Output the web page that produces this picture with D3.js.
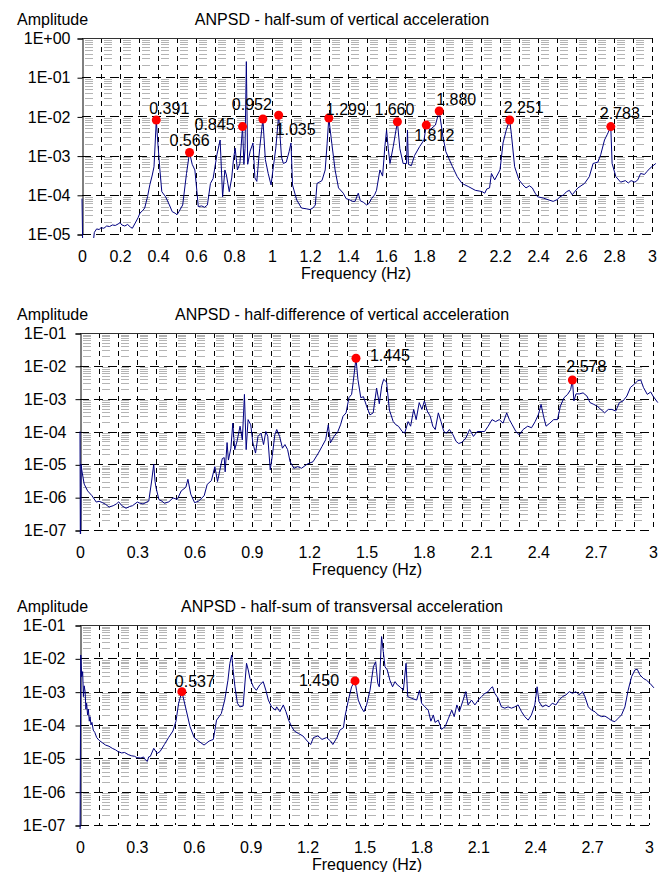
<!DOCTYPE html>
<html>
<head>
<meta charset="utf-8">
<script src="https://cdn.jsdelivr.net/npm/d3@7"></script>
<style>
  body { margin: 0; background: #fff; }
  text { font-family: "Liberation Sans", Arial, sans-serif; fill: #000; }
</style>
</head>
<body>
<svg id="chart" width="669" height="872"></svg>
<script>
// ---- data: [frequency (Hz), amplitude] ----
var halfSumVert = [
  [0, 8e-5], [0.004, 4e-6], [0.057, 5e-6], [0.065, 1.1e-5], [0.077, 1.35e-5], [0.09, 1.3e-5],
  [0.1, 1.45e-5], [0.115, 1.4e-5], [0.13, 1.6e-5], [0.145, 1.55e-5], [0.16, 1.7e-5], [0.175, 1.65e-5],
  [0.19, 1.8e-5], [0.2, 1.95e-5], [0.21, 1.7e-5], [0.225, 1.6e-5], [0.24, 1.75e-5], [0.255, 1.5e-5],
  [0.265, 1.4e-5], [0.28, 1.9e-5], [0.295, 2.6e-5], [0.305, 3.4e-5], [0.32, 4e-5], [0.33, 4.6e-5],
  [0.345, 9e-5], [0.357, 1.8e-4], [0.37, 3.2e-4], [0.379, 5.2e-4], [0.386, 2.5e-3], [0.391, 8.1e-3],
  [0.398, 2.5e-3], [0.41, 4.3e-4], [0.42, 1.2e-4], [0.44, 8.9e-5], [0.46, 5.5e-5], [0.475, 3.7e-5],
  [0.49, 3.4e-5], [0.5, 3.1e-5], [0.51, 3.7e-5], [0.53, 5.5e-5], [0.55, 3.5e-4], [0.566, 1.2e-3],
  [0.58, 6e-4], [0.594, 4.3e-4], [0.605, 1.2e-4], [0.612, 5e-5], [0.63, 5.2e-5], [0.645, 4.8e-5],
  [0.66, 5.5e-5], [0.676, 1.95e-4], [0.69, 2.6e-4], [0.71, 1.05e-3], [0.727, 2.5e-3], [0.74, 8.9e-5],
  [0.752, 4.3e-4], [0.76, 3.2e-4], [0.775, 1.2e-4], [0.788, 2.7e-4], [0.797, 7.8e-4], [0.806, 1.55e-3],
  [0.818, 4.3e-4], [0.831, 6.3e-4], [0.845, 5.5e-3], [0.852, 6e-4], [0.858, 1.5e-3], [0.865, 0.25],
  [0.872, 6e-4], [0.885, 1.3e-3], [0.9, 2.1e-3], [0.91, 2.7e-4], [0.92, 2.2e-4], [0.935, 1.5e-3],
  [0.952, 8.6e-3], [0.965, 7.9e-4], [0.98, 3.5e-4], [0.995, 1.78e-4], [1.005, 4.3e-4], [1.02, 1.55e-3],
  [1.035, 1.07e-2], [1.05, 9.1e-4], [1.06, 6.3e-4], [1.075, 6.8e-4], [1.09, 1.26e-3], [1.1, 2.1e-3],
  [1.108, 1.78e-4], [1.13, 7.4e-5], [1.155, 4.6e-5], [1.18, 4.4e-5], [1.2, 4.2e-5], [1.215, 4.6e-5],
  [1.228, 5.5e-5], [1.237, 1.95e-4], [1.263, 2.3e-4], [1.28, 4.3e-4], [1.29, 2e-3], [1.299, 9.1e-3],
  [1.315, 2e-3], [1.332, 4.3e-4], [1.35, 1.5e-4], [1.375, 1.1e-4], [1.39, 8e-5], [1.41, 7.4e-5],
  [1.425, 6.8e-5], [1.437, 6.8e-5], [1.454, 1.1e-4], [1.465, 7e-5], [1.48, 6.5e-5], [1.498, 5.5e-5],
  [1.51, 6e-5], [1.524, 8e-5], [1.54, 1e-4], [1.55, 1.3e-4], [1.568, 4.3e-4], [1.582, 3e-4],
  [1.594, 1.7e-3], [1.603, 4.5e-3], [1.612, 1.5e-3], [1.621, 6.3e-4], [1.638, 1.7e-3], [1.66, 7.3e-3],
  [1.673, 1.5e-3], [1.69, 6.3e-4], [1.708, 6.3e-4], [1.713, 4.5e-3], [1.718, 6e-4], [1.733, 5.5e-4],
  [1.75, 1e-3], [1.777, 1.7e-3], [1.8, 2.5e-3], [1.812, 6e-3], [1.83, 4.5e-3], [1.86, 6e-3],
  [1.88, 1.37e-2], [1.9, 3e-3], [1.915, 1.26e-3], [1.95, 5.2e-4], [1.975, 2.9e-4], [2.0, 1.95e-4],
  [2.036, 1.6e-4], [2.07, 1.3e-4], [2.09, 1.25e-4], [2.106, 1.2e-4], [2.12, 1.1e-4], [2.13, 1.4e-4],
  [2.145, 1.5e-4], [2.155, 3.5e-4], [2.172, 2.4e-4], [2.2, 4.3e-4], [2.216, 2.1e-3], [2.233, 4.5e-3],
  [2.251, 8.1e-3], [2.26, 3.5e-3], [2.277, 5.2e-4], [2.3, 2.4e-4], [2.32, 1.8e-4], [2.337, 1.5e-4],
  [2.355, 1.7e-4], [2.37, 1.5e-4], [2.385, 1.1e-4], [2.398, 8.9e-5], [2.43, 8.2e-5], [2.456, 7.4e-5],
  [2.48, 6.8e-5], [2.5, 7.5e-5], [2.516, 8.9e-5], [2.535, 1e-4], [2.55, 1.2e-4], [2.565, 1.3e-4],
  [2.58, 1e-4], [2.61, 1.5e-4], [2.645, 1.95e-4], [2.67, 2.9e-4], [2.69, 6.3e-4], [2.715, 6.8e-4],
  [2.73, 1.05e-3], [2.75, 2.5e-3], [2.765, 3.5e-3], [2.783, 5.5e-3], [2.79, 6.3e-4], [2.81, 2.9e-4],
  [2.835, 2.1e-4], [2.86, 2.3e-4], [2.875, 2e-4], [2.89, 2.3e-4], [2.91, 2.1e-4], [2.925, 2.4e-4],
  [2.94, 3.5e-4], [2.96, 3.3e-4], [2.975, 4e-4], [2.99, 4.8e-4], [3.02, 6.3e-4]
];
var halfSumVertPeaks = [
  [0.391, 8.1e-3], [0.566, 1.2e-3], [0.845, 5.5e-3], [0.952, 8.6e-3], [1.035, 1.07e-2], [1.299, 9.1e-3],
  [1.660, 7.3e-3], [1.812, 6e-3], [1.880, 1.37e-2], [2.251, 8.1e-3], [2.783, 5.5e-3]
];

var halfDiffVert = [
  [0, 1e-4], [0.002, 1e-8], [0.006, 1e-5], [0.01, 6.3e-6], [0.022, 2.5e-6], [0.04, 1.55e-6],
  [0.063, 1.1e-6], [0.085, 7.1e-7], [0.1, 7.5e-7], [0.118, 6.8e-7], [0.135, 6e-7], [0.152, 5e-7],
  [0.174, 5.5e-7], [0.19, 6.2e-7], [0.203, 7.2e-7], [0.219, 5.5e-7], [0.241, 4.6e-7], [0.26, 5.2e-7],
  [0.275, 5.5e-7], [0.3, 7.1e-7], [0.315, 6.5e-7], [0.33, 6.2e-7], [0.36, 7.6e-7], [0.375, 3.1e-6],
  [0.386, 1e-5], [0.393, 3e-6], [0.398, 1.95e-6], [0.413, 8.5e-7], [0.43, 7.5e-7], [0.442, 6.5e-7],
  [0.465, 7.2e-7], [0.487, 9.5e-7], [0.509, 8.5e-7], [0.53, 1.55e-6], [0.554, 2e-6], [0.565, 3.5e-6],
  [0.58, 1.23e-6], [0.6, 6.8e-7], [0.62, 7.5e-7], [0.65, 1.1e-6], [0.666, 2.45e-6], [0.688, 3.2e-6],
  [0.706, 8.5e-6], [0.72, 3e-6], [0.74, 1.1e-5], [0.745, 1.5e-5], [0.755, 1.6e-5], [0.76, 5.9e-6],
  [0.77, 4.6e-5], [0.777, 1.35e-5], [0.79, 3.1e-5], [0.8, 1.8e-4], [0.81, 2.8e-5], [0.822, 5e-5],
  [0.838, 1.45e-4], [0.85, 5.6e-5], [0.861, 1.35e-3], [0.87, 2.8e-5], [0.88, 2.3e-4], [0.894, 1.6e-4],
  [0.905, 4.5e-5], [0.919, 2.2e-5], [0.932, 7.1e-5], [0.948, 8.9e-5], [0.961, 4e-5], [0.973, 1e-4],
  [0.983, 7.1e-5], [0.996, 6.8e-6], [1.006, 1.7e-5], [1.02, 7.9e-5], [1.03, 1.15e-4], [1.045, 7.1e-5],
  [1.06, 3.1e-5], [1.073, 4e-5], [1.087, 2.8e-5], [1.1, 1.2e-5], [1.12, 7.6e-6], [1.14, 8.5e-6],
  [1.16, 7.6e-6], [1.19, 1.02e-5], [1.22, 1.2e-5], [1.248, 2.2e-5], [1.267, 3.5e-5], [1.286, 5.6e-5],
  [1.3, 1.6e-4], [1.311, 4.5e-5], [1.33, 7.1e-5], [1.35, 1e-4], [1.364, 1.6e-4], [1.377, 2.9e-4],
  [1.393, 3.7e-4], [1.408, 1.07e-3], [1.422, 1.35e-3], [1.43, 3.1e-3], [1.445, 1.7e-2], [1.455, 3.9e-3],
  [1.47, 1.07e-3], [1.484, 1.15e-3], [1.5, 6e-4], [1.518, 3.2e-4], [1.535, 3.7e-4], [1.553, 2.1e-3],
  [1.567, 7e-4], [1.58, 2.5e-3], [1.59, 3.9e-3], [1.605, 3.2e-3], [1.62, 4.5e-4], [1.64, 2e-4],
  [1.654, 1.6e-4], [1.667, 1.45e-4], [1.687, 1e-4], [1.7, 8.9e-5], [1.718, 2e-4], [1.731, 1.45e-4],
  [1.747, 4.7e-4], [1.76, 2.3e-4], [1.776, 7.6e-4], [1.79, 4.7e-4], [1.803, 8.5e-4], [1.818, 4.2e-4],
  [1.834, 2.9e-4], [1.847, 1.45e-4], [1.86, 1.15e-4], [1.876, 3.7e-4], [1.89, 2e-4], [1.905, 1e-4],
  [1.919, 8.9e-5], [1.934, 1.15e-4], [1.953, 7.9e-5], [1.969, 5e-5], [1.983, 4.3e-5], [2.0, 4.7e-5],
  [2.02, 6.3e-5], [2.04, 1.15e-4], [2.06, 7.1e-5], [2.08, 1e-4], [2.1, 1e-4], [2.118, 1e-4],
  [2.137, 1.45e-4], [2.157, 2.3e-4], [2.176, 2e-4], [2.195, 2.3e-4], [2.215, 1.8e-4], [2.234, 3.7e-4],
  [2.248, 2.3e-4], [2.263, 1.6e-4], [2.282, 1e-4], [2.3, 7.9e-5], [2.32, 1.15e-4], [2.344, 1.45e-4],
  [2.364, 1.3e-4], [2.383, 2e-4], [2.4, 3.3e-4], [2.414, 6.7e-4], [2.427, 2.9e-4], [2.44, 1.45e-4],
  [2.46, 1.8e-4], [2.48, 2.3e-4], [2.5, 2.3e-4], [2.515, 5.9e-4], [2.534, 1.07e-3], [2.553, 1.35e-3],
  [2.569, 1.9e-3], [2.578, 3.7e-3], [2.586, 8.5e-4], [2.597, 1.4e-3], [2.615, 1.4e-3], [2.634, 1.5e-3],
  [2.654, 1.2e-3], [2.67, 7.6e-4], [2.69, 6.7e-4], [2.708, 5.9e-4], [2.727, 4.7e-4], [2.747, 3.7e-4],
  [2.766, 4.7e-4], [2.785, 4.7e-4], [2.805, 4.2e-4], [2.824, 7.6e-4], [2.843, 8.5e-4], [2.863, 1.2e-3],
  [2.882, 2.2e-3], [2.9, 2.7e-3], [2.92, 3.5e-3], [2.936, 3.7e-3], [2.95, 2.2e-3], [2.97, 1.35e-3],
  [2.988, 1.6e-3], [3.0, 1.2e-3], [3.025, 7.6e-4]
];
var halfDiffVertPeaks = [[1.445, 1.7e-2], [2.578, 3.7e-3]];

var halfSumTrans = [
  [0, 1e-8], [0.004, 1.26e-2], [0.009, 2.8e-3], [0.014, 4e-3], [0.018, 7.1e-4], [0.022, 1.5e-3],
  [0.027, 1e-3], [0.031, 3e-4], [0.035, 4.5e-4], [0.04, 2e-4], [0.044, 3e-4], [0.049, 1.3e-4],
  [0.053, 1.78e-4], [0.058, 1e-4], [0.063, 1.2e-4], [0.07, 7e-5], [0.078, 6e-5], [0.088, 4.2e-5],
  [0.1, 3.5e-5], [0.119, 2.9e-5], [0.135, 2.5e-5], [0.153, 2.3e-5], [0.17, 2e-5], [0.187, 1.8e-5],
  [0.2, 1.6e-5], [0.22, 1.45e-5], [0.235, 1.5e-5], [0.254, 1.3e-5], [0.27, 1.2e-5], [0.288, 1.15e-5],
  [0.3, 1.05e-5], [0.321, 1.02e-5], [0.335, 1.1e-5], [0.345, 9e-6], [0.355, 8.1e-6], [0.362, 1.1e-5],
  [0.371, 1.15e-5], [0.389, 2e-5], [0.407, 1.4e-5], [0.422, 1.6e-5], [0.445, 2.6e-5], [0.467, 4.2e-5],
  [0.49, 6.6e-5], [0.506, 1.3e-4], [0.52, 4.5e-4], [0.537, 1e-3], [0.56, 2.8e-4], [0.58, 8.9e-5],
  [0.602, 4.2e-5], [0.625, 3.3e-5], [0.654, 2.5e-5], [0.681, 3.3e-5], [0.703, 3.7e-5], [0.72, 1.4e-4],
  [0.745, 2.2e-4], [0.763, 5.6e-4], [0.78, 2.2e-3], [0.79, 7e-3], [0.8, 1.26e-2], [0.808, 4e-3],
  [0.817, 1.4e-3], [0.83, 4.5e-4], [0.843, 3.5e-4], [0.86, 3.7e-4], [0.878, 7.1e-3], [0.887, 4.5e-3],
  [0.896, 2.5e-3], [0.914, 1.4e-3], [0.93, 1.1e-3], [0.948, 1.6e-3], [0.966, 2e-3], [0.98, 1.1e-3],
  [0.993, 5.6e-4], [1.01, 3.5e-4], [1.03, 2.8e-4], [1.037, 3.5e-4], [1.054, 2.5e-4], [1.072, 4e-4],
  [1.086, 2.5e-4], [1.1, 1.4e-4], [1.116, 8.9e-5], [1.13, 6.6e-5], [1.153, 5.5e-5], [1.175, 4.7e-5],
  [1.198, 3.3e-5], [1.216, 2.6e-5], [1.231, 4.2e-5], [1.254, 4.7e-5], [1.276, 3.7e-5], [1.3, 4.2e-5],
  [1.321, 3.3e-5], [1.333, 2.6e-5], [1.355, 4.2e-5], [1.37, 7e-5], [1.389, 8.3e-5], [1.397, 1.78e-4],
  [1.415, 5.6e-4], [1.432, 1.4e-3], [1.45, 2.1e-3], [1.458, 1.1e-3], [1.467, 5.6e-4], [1.485, 3.2e-4],
  [1.497, 2.5e-4], [1.511, 4e-4], [1.529, 1.1e-3], [1.547, 5.6e-3], [1.559, 7.9e-3], [1.57, 1.78e-3],
  [1.578, 1.4e-3], [1.59, 4.5e-2], [1.599, 1.6e-2], [1.608, 5.6e-3], [1.62, 4.5e-3], [1.634, 2.2e-3],
  [1.648, 1.4e-3], [1.661, 2e-3], [1.673, 1.6e-3], [1.687, 1.4e-3], [1.705, 1.1e-3], [1.719, 7.1e-3],
  [1.728, 7.1e-4], [1.749, 6.3e-4], [1.775, 5.6e-4], [1.79, 1.1e-3], [1.801, 4.5e-4], [1.819, 3.5e-4],
  [1.836, 2.8e-4], [1.85, 1.3e-4], [1.863, 2e-4], [1.872, 1.2e-4], [1.889, 1.4e-4], [1.906, 7.4e-5],
  [1.925, 8.9e-5], [1.943, 1.6e-4], [1.96, 2.8e-4], [1.973, 1.78e-4], [1.987, 4e-4], [2.0, 2.5e-4],
  [2.02, 5.6e-4], [2.034, 1e-3], [2.046, 4e-4], [2.064, 5.6e-4], [2.082, 4e-4], [2.1, 5.6e-4],
  [2.117, 7.1e-4], [2.135, 8.9e-4], [2.152, 1e-3], [2.165, 1.26e-3], [2.175, 1.4e-3], [2.187, 8.9e-4],
  [2.205, 6.3e-4], [2.222, 3.5e-4], [2.24, 3.2e-4], [2.257, 3.5e-4], [2.275, 3.2e-4], [2.292, 3.5e-4],
  [2.31, 4e-4], [2.328, 2.5e-4], [2.345, 1.78e-4], [2.363, 1.4e-4], [2.38, 2e-4], [2.398, 4e-4],
  [2.41, 1.4e-3], [2.42, 5e-4], [2.438, 3.5e-4], [2.456, 4e-4], [2.473, 3.5e-4], [2.49, 4.5e-4],
  [2.509, 4e-4], [2.526, 5.6e-4], [2.544, 7.1e-4], [2.562, 8e-4], [2.58, 1e-3], [2.597, 8.9e-4],
  [2.615, 1e-3], [2.632, 8e-4], [2.65, 1e-3], [2.662, 7.1e-4], [2.68, 3.5e-4], [2.697, 2.8e-4],
  [2.715, 2.5e-4], [2.732, 2e-4], [2.75, 1.78e-4], [2.768, 1.85e-4], [2.785, 1.6e-4], [2.803, 1.35e-4],
  [2.82, 1.26e-4], [2.838, 1.6e-4], [2.855, 2e-4], [2.873, 3.5e-4], [2.89, 1.1e-3], [2.908, 2.8e-3],
  [2.926, 4.5e-3], [2.938, 4.7e-3], [2.952, 3.2e-3], [2.97, 2.5e-3], [2.987, 2.2e-3], [3.005, 1.78e-3],
  [3.026, 1.3e-3]
];
var halfSumTransPeaks = [[0.537, 1e-3], [1.450, 2.1e-3]];

var ticksStep02 = [0, 0.2, 0.4, 0.6, 0.8, 1, 1.2, 1.4, 1.6, 1.8, 2, 2.2, 2.4, 2.6, 2.8, 3];
var ticksStep03 = [0, 0.3, 0.6, 0.9, 1.2, 1.5, 1.8, 2.1, 2.4, 2.7, 3];
var gridStep01 = d3.range(1, 31).map(function(i) { return i / 10; });

// ---- layout for the three panels ----
var panels = [
  { title: "ANPSD - half-sum of vertical acceleration", data: halfSumVert, peaks: halfSumVertPeaks,
    xTicks: ticksStep02, yDomain: [1e-5, 1], left: 82, right: 652, top: 38, bottom: 234, labelPad: 7,
    xTitleX: 356,
    labelOffsets: [[13, -12], [0, -12], [-28, -2], [-11, -15], [17, 14], [17, -9],
                   [-3, -12], [8, 10], [17, -12], [14, -13], [9, -13]] },
  { title: "ANPSD - half-difference of vertical acceleration", data: halfDiffVert, peaks: halfDiffVertPeaks,
    xTicks: ticksStep03, yDomain: [1e-7, 1e-1], left: 80, right: 653, top: 333, bottom: 530, labelPad: 9,
    xTitleX: 367,
    labelOffsets: [[34, -3], [14, -14]] },
  { title: "ANPSD - half-sum of transversal acceleration", data: halfSumTrans, peaks: halfSumTransPeaks,
    xTicks: ticksStep03, yDomain: [1e-7, 1e-1], left: 80, right: 649, top: 625, bottom: 825, labelPad: 10,
    xTitleX: 367,
    labelOffsets: [[13, -10], [-36, -1]] }
];

var svg = d3.select("#chart");

function expLabel(d) {
  var e = Math.round(Math.log10(d));
  return "1E" + (e < 0 ? "-" : "+") + d3.format("02d")(Math.abs(e));
}

panels.forEach(function(p, idx) {
  var g = svg.append("g");

  var x = d3.scaleLinear().domain([0, 3]).range([p.left, p.right]);
  var y = d3.scaleLog().domain(p.yDomain).range([p.bottom, p.top]);

  var eMin = Math.round(Math.log10(p.yDomain[0])), eMax = Math.round(Math.log10(p.yDomain[1]));
  var decades = d3.range(eMin, eMax + 1).map(function(e) { return Math.pow(10, e); });
  var minors = [];
  d3.range(eMin, eMax).forEach(function(e) {
    for (var k = 2; k <= 9; k++) minors.push(k * Math.pow(10, e));
  });

  // minor horizontal gridlines
  g.append("g").selectAll("line").data(minors).join("line")
    .attr("x1", p.left).attr("x2", p.right)
    .attr("y1", function(d) { return Math.round(y(d)) + 0.5; })
    .attr("y2", function(d) { return Math.round(y(d)) + 0.5; })
    .attr("stroke", "#b4b4b4").attr("stroke-width", 1)
    .attr("stroke-dasharray", "8,11").attr("stroke-dashoffset", -3);

  // vertical gridlines every 0.1 Hz
  g.append("g").selectAll("line").data(gridStep01).join("line")
    .attr("x1", function(d) { return Math.round(x(d)) + 0.5; })
    .attr("x2", function(d) { return Math.round(x(d)) + 0.5; })
    .attr("y1", p.top).attr("y2", p.bottom)
    .attr("stroke", "#000").attr("stroke-width", 1)
    .attr("stroke-dasharray", "5,4");

  // decade gridlines
  g.append("g").selectAll("line").data(decades.slice(0, -1)).join("line")
    .attr("x1", p.left).attr("x2", p.right)
    .attr("y1", function(d) { return Math.round(y(d)) + 0.5; })
    .attr("y2", function(d) { return Math.round(y(d)) + 0.5; })
    .attr("stroke", "#000").attr("stroke-width", 1)
    .attr("stroke-dasharray", "9,5");

  // top border
  g.append("line")
    .attr("x1", p.left).attr("x2", p.right)
    .attr("y1", Math.round(p.top) + 0.5).attr("y2", Math.round(p.top) + 0.5)
    .attr("stroke", "#333").attr("stroke-width", 1);

  // y axis
  var yAxis = g.append("g")
    .attr("transform", "translate(" + (p.left + 0.5) + ",0.5)")
    .call(d3.axisLeft(y).tickValues(decades).tickSize(5).tickPadding(p.labelPad).tickFormat(expLabel));
  yAxis.select(".domain").attr("stroke", "#000");
  yAxis.selectAll(".tick line").attr("stroke", "#000");
  yAxis.selectAll("text").attr("font-size", 16).attr("font-family", "Liberation Sans, Arial, sans-serif");

  // x axis labels
  var xAxis = g.append("g")
    .attr("transform", "translate(0," + p.bottom + ")")
    .call(d3.axisBottom(x).tickValues(p.xTicks).tickSize(0).tickPadding(17).tickFormat(d3.format("~g")));
  xAxis.select(".domain").remove();
  xAxis.selectAll("text").attr("font-size", 16).attr("font-family", "Liberation Sans, Arial, sans-serif");

  // titles
  g.append("text").attr("x", 17).attr("y", p.top - 19).attr("dy", "0.35em")
    .attr("font-size", 16).text("Amplitude");
  g.append("text").attr("x", 342).attr("y", p.top - 19).attr("dy", "0.35em")
    .attr("text-anchor", "middle").attr("font-size", 16).text(p.title);
  g.append("text").attr("x", p.xTitleX).attr("y", p.bottom + 39).attr("dy", "0.35em")
    .attr("text-anchor", "middle").attr("font-size", 16).text("Frequency (Hz)");

  // spectrum line
  var clipId = "clip" + idx;
  svg.append("clipPath").attr("id", clipId).append("rect")
    .attr("x", p.left - 2).attr("y", p.top - 2)
    .attr("width", p.right - p.left + 12).attr("height", p.bottom - p.top + 6);

  var line = d3.line().x(function(d) { return x(d[0]); }).y(function(d) { return y(d[1]); });
  g.append("path").datum(p.data)
    .attr("clip-path", "url(#" + clipId + ")")
    .attr("fill", "none").attr("stroke", "#000080").attr("stroke-width", 1)
    .attr("d", line);

  // peak markers and labels
  g.append("g").selectAll("circle").data(p.peaks).join("circle")
    .attr("cx", function(d) { return x(d[0]); })
    .attr("cy", function(d) { return y(d[1]); })
    .attr("r", 4.5).attr("fill", "#ff0000");

  g.append("g").selectAll("text").data(p.peaks).join("text")
    .attr("x", function(d, i) { return x(d[0]) + p.labelOffsets[i][0]; })
    .attr("y", function(d, i) { return y(d[1]) + p.labelOffsets[i][1]; })
    .attr("dy", "0.35em").attr("text-anchor", "middle").attr("font-size", 16)
    .text(function(d) { return d3.format(".3f")(d[0]); });
});
</script>
</body>
</html>
